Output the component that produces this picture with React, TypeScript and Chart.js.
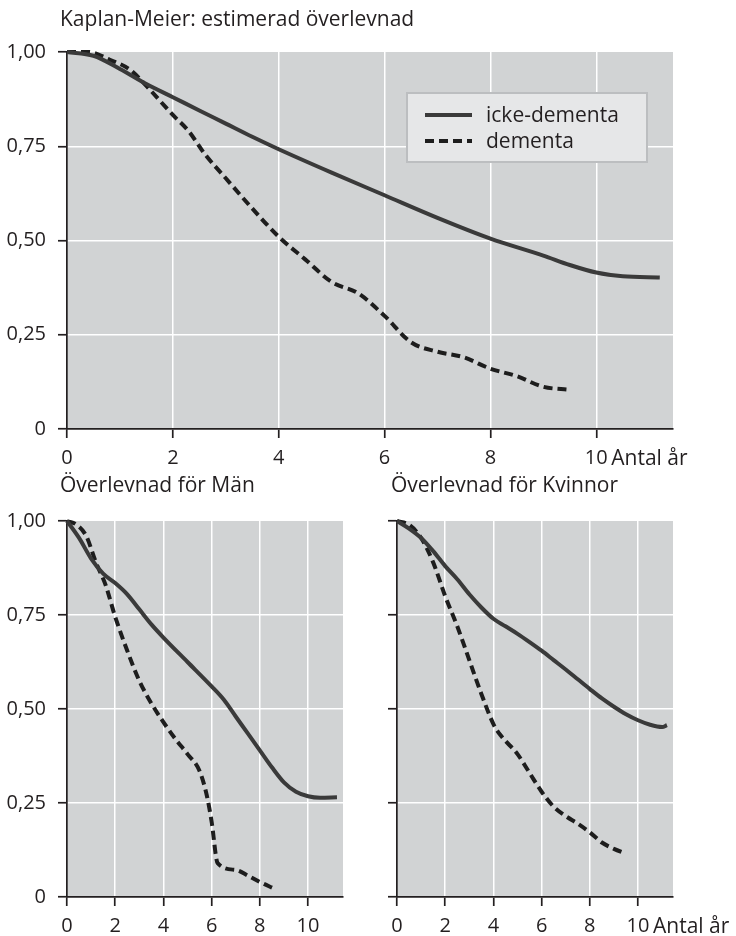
import React, { useEffect, useRef } from "react";
import { Chart, registerables } from "chart.js";

Chart.register(...registerables);

const FONT = "'Open Sans', 'Noto Sans', sans-serif";
const TEXT = "#231f20";
const PLOT_BG = "#d1d3d4";
const SOLID = "#3a3a3a";
const DASH = "#1d1d1d";
const TICK_SIZE = 20;
const TEXT_SIZE = 21;

// ---- texts ----
const mainTitle = "Kaplan-Meier: estimerad överlevnad";
const menTitle = "Överlevnad för Män";
const womenTitle = "Överlevnad för Kvinnor";
const xUnit = "Antal år";
const seriesNames = ["icke-dementa", "dementa"];

// ---- axes ----
const xTicks = [0, 2, 4, 6, 8, 10];
const xGridValues = [2, 4, 6, 8, 10];
const xMax = 11.45;
const yTicks = [0, 0.25, 0.5, 0.75, 1];
const yTickLabels = ["0", "0,25", "0,50", "0,75", "1,00"];
const yGridValues = [0.25, 0.5, 0.75];

// ---- data: all ----
const allNonDemX = [0, 0.5, 1, 1.5, 2, 2.5, 3, 3.5, 4, 5, 6, 7, 8, 9, 9.5, 10, 10.5, 11.2];
const allNonDemY = [1, 0.99, 0.955, 0.915, 0.88, 0.845, 0.81, 0.775, 0.742, 0.68, 0.62, 0.56, 0.505, 0.46, 0.435, 0.415, 0.405, 0.402];
const allDemX = [0, 0.4, 0.8, 1.2, 1.5, 2, 2.3, 2.6, 3, 3.5, 4, 4.5, 5, 5.5, 6, 6.5, 7, 7.5, 8, 8.5, 9, 9.5];
const allDemY = [1, 1, 0.98, 0.952, 0.91, 0.833, 0.79, 0.73, 0.665, 0.585, 0.51, 0.45, 0.39, 0.36, 0.3, 0.23, 0.205, 0.19, 0.16, 0.14, 0.112, 0.104];

// ---- data: men ----
const menNonDemX = [0, 0.5, 1, 1.5, 2, 2.5, 3, 3.5, 4, 5, 6, 6.5, 7, 7.5, 8, 8.5, 9, 9.5, 10, 10.5, 11.2];
const menNonDemY = [1, 0.955, 0.9, 0.86, 0.835, 0.805, 0.765, 0.725, 0.69, 0.625, 0.56, 0.525, 0.48, 0.435, 0.39, 0.345, 0.305, 0.28, 0.268, 0.264, 0.265];
const menDemX = [0, 0.4, 0.8, 1.2, 1.6, 2, 2.5, 3, 3.5, 4, 4.5, 5, 5.5, 5.8, 6, 6.25, 7, 7.5, 8, 8.6];
const menDemY = [1, 0.99, 0.96, 0.89, 0.83, 0.745, 0.655, 0.575, 0.515, 0.465, 0.42, 0.38, 0.335, 0.27, 0.2, 0.09, 0.072, 0.057, 0.04, 0.022];

// ---- data: women ----
const womenNonDemX = [0, 0.5, 1, 1.5, 2, 2.5, 3, 3.5, 4, 4.5, 5, 5.5, 6, 6.5, 7, 7.5, 8, 8.5, 9, 9.5, 10, 10.5, 11, 11.2];
const womenNonDemY = [1, 0.98, 0.955, 0.92, 0.88, 0.845, 0.805, 0.77, 0.74, 0.72, 0.7, 0.678, 0.655, 0.63, 0.605, 0.579, 0.553, 0.528, 0.506, 0.486, 0.47, 0.458, 0.452, 0.457];
const womenDemX = [0, 0.5, 1, 1.5, 2, 2.5, 3, 3.5, 4, 4.3, 5, 5.5, 6, 6.5, 7, 7.5, 8, 8.5, 9, 9.5];
const womenDemY = [1, 0.99, 0.955, 0.89, 0.8, 0.72, 0.63, 0.54, 0.46, 0.43, 0.38, 0.33, 0.28, 0.24, 0.215, 0.195, 0.172, 0.145, 0.128, 0.115];

const toPoints = (xs: number[], ys: number[]) => xs.map((x, i) => ({ x, y: ys[i] }));

const bgPlugin = {
  id: "plotBg",
  beforeDraw(chart: any) {
    const { ctx, chartArea: a } = chart;
    ctx.save();
    ctx.fillStyle = PLOT_BG;
    ctx.fillRect(a.left, a.top, a.right - a.left, a.bottom - a.top);
    ctx.restore();
  },
};

const unitPlugin = {
  id: "unitLabel",
  afterDraw(chart: any) {
    const { ctx, chartArea: a } = chart;
    const xs = chart.scales.x;
    const px = xs.getPixelForValue(xTicks[xTicks.length - 1]) + 15;
    ctx.save();
    ctx.font = `${TEXT_SIZE}px ${FONT}`;
    ctx.fillStyle = TEXT;
    ctx.textAlign = "left";
    ctx.textBaseline = "alphabetic";
    ctx.fillText(xUnit, px, a.bottom + 36);
    ctx.restore();
  },
};

const legendPlugin = {
  id: "boxLegend",
  afterDraw(chart: any) {
    const { ctx, chartArea: a } = chart;
    const bx = a.left + 340;
    const by = a.top + 41;
    const bw = 240;
    const bh = 69;
    ctx.save();
    ctx.fillStyle = "#e6e7e8";
    ctx.fillRect(bx, by, bw, bh);
    ctx.strokeStyle = "#bcbec0";
    ctx.lineWidth = 2;
    ctx.strokeRect(bx, by, bw, bh);
    chart.data.datasets.forEach((ds: any, i: number) => {
      const ly = by + 22 + i * 26;
      ctx.beginPath();
      ctx.setLineDash(ds.borderDash || []);
      ctx.strokeStyle = ds.borderColor;
      ctx.lineWidth = 4;
      ctx.moveTo(bx + 18, ly);
      ctx.lineTo(bx + 65, ly);
      ctx.stroke();
      ctx.setLineDash([]);
      ctx.font = `${TEXT_SIZE}px ${FONT}`;
      ctx.fillStyle = TEXT;
      ctx.textAlign = "left";
      ctx.textBaseline = "alphabetic";
      ctx.fillText(ds.label, bx + 79, ly + 7);
    });
    ctx.restore();
  },
};

type PanelDef = {
  nonDem: any[];
  dem: any[];
  yWidth: number;
  xHeight: number;
  padTop: number;
  padRight: number;
  showYLabels: boolean;
  legend: boolean;
  unit: boolean;
};

function buildConfig(p: PanelDef): any {
  const plugins: any[] = [bgPlugin];
  if (p.unit) plugins.push(unitPlugin);
  if (p.legend) plugins.push(legendPlugin);
  return {
    type: "line",
    data: {
      datasets: [
        {
          label: seriesNames[0],
          data: p.nonDem,
          borderColor: SOLID,
          borderWidth: 4,
          pointRadius: 0,
          fill: false,
          cubicInterpolationMode: "monotone",
          clip: false,
        },
        {
          label: seriesNames[1],
          data: p.dem,
          borderColor: DASH,
          borderWidth: 4,
          borderDash: [9, 5],
          pointRadius: 0,
          fill: false,
          cubicInterpolationMode: "monotone",
          clip: false,
        },
      ],
    },
    options: {
      animation: false,
      responsive: false,
      devicePixelRatio: 1,
      events: [],
      layout: { padding: { top: p.padTop, right: p.padRight, left: 0, bottom: 0 } },
      plugins: { legend: { display: false }, tooltip: { enabled: false }, title: { display: false } },
      scales: {
        x: {
          type: "linear",
          min: 0,
          max: xMax,
          afterBuildTicks: (s: any) => {
            s.ticks = xTicks.map((v) => ({ value: v }));
          },
          afterFit: (s: any) => {
            s.height = p.xHeight;
          },
          ticks: {
            autoSkip: false,
            maxRotation: 0,
            padding: 8,
            color: TEXT,
            font: { family: FONT, size: TICK_SIZE },
            callback: (v: any) => String(v),
          },
          grid: {
            color: (c: any) => (c.tick && xGridValues.includes(c.tick.value) ? "#ffffff" : "rgba(0,0,0,0)"),
            lineWidth: 1.5,
            tickColor: TEXT,
            tickWidth: 1.7,
            tickLength: 9,
            drawTicks: true,
          },
          border: { display: true, color: TEXT, width: 1.7 },
        },
        y: {
          type: "linear",
          min: 0,
          max: 1,
          afterBuildTicks: (s: any) => {
            s.ticks = yTicks.map((v) => ({ value: v }));
          },
          afterFit: (s: any) => {
            s.width = p.yWidth;
          },
          ticks: {
            display: p.showYLabels,
            padding: 12,
            color: TEXT,
            font: { family: FONT, size: TICK_SIZE },
            callback: (v: any) => yTickLabels[yTicks.indexOf(v)],
          },
          grid: {
            color: (c: any) => (c.tick && yGridValues.includes(c.tick.value) ? "#ffffff" : "rgba(0,0,0,0)"),
            lineWidth: 1.5,
            tickColor: TEXT,
            tickWidth: 1.7,
            tickLength: 9,
            drawTicks: true,
          },
          border: { display: true, color: TEXT, width: 1.7 },
        },
      },
    },
    plugins,
  };
}

function Panel(props: { def: PanelDef; left: number; top: number; w: number; h: number }) {
  const ref = useRef<HTMLCanvasElement | null>(null);
  useEffect(() => {
    if (!ref.current) return;
    const chart = new Chart(ref.current, buildConfig(props.def));
    return () => chart.destroy();
  }, []);
  return (
    <canvas
      ref={ref}
      width={props.w}
      height={props.h}
      style={{ position: "absolute", left: props.left, top: props.top, width: props.w, height: props.h }}
    />
  );
}

const titleStyle = (left: number, top: number): React.CSSProperties => ({
  position: "absolute",
  left,
  top,
  fontFamily: FONT,
  fontSize: TEXT_SIZE,
  lineHeight: "30px",
  color: TEXT,
  whiteSpace: "nowrap",
});

export default function App() {
  const top: PanelDef = {
    nonDem: toPoints(allNonDemX, allNonDemY),
    dem: toPoints(allDemX, allDemY),
    yWidth: 67,
    xHeight: 41,
    padTop: 52,
    padRight: 63,
    showYLabels: true,
    legend: true,
    unit: true,
  };
  const men: PanelDef = {
    nonDem: toPoints(menNonDemX, menNonDemY),
    dem: toPoints(menDemX, menDemY),
    yWidth: 67,
    xHeight: 39,
    padTop: 41,
    padRight: 17,
    showYLabels: true,
    legend: false,
    unit: false,
  };
  const women: PanelDef = {
    nonDem: toPoints(womenNonDemX, womenNonDemY),
    dem: toPoints(womenDemX, womenDemY),
    yWidth: 37,
    xHeight: 39,
    padTop: 41,
    padRight: 63,
    showYLabels: false,
    legend: false,
    unit: true,
  };
  return (
    <div style={{ position: "absolute", left: 0, top: 0, width: 736, height: 936, background: "#fff", overflow: "hidden" }}>
      <Panel def={top} left={0} top={0} w={736} h={470} />
      <Panel def={men} left={0} top={480} w={360} h={456} />
      <Panel def={women} left={360} top={480} w={376} h={456} />
      <div style={titleStyle(60, 3)}>{mainTitle}</div>
      <div style={titleStyle(60, 469)}>{menTitle}</div>
      <div style={titleStyle(391, 469)}>{womenTitle}</div>
    </div>
  );
}
